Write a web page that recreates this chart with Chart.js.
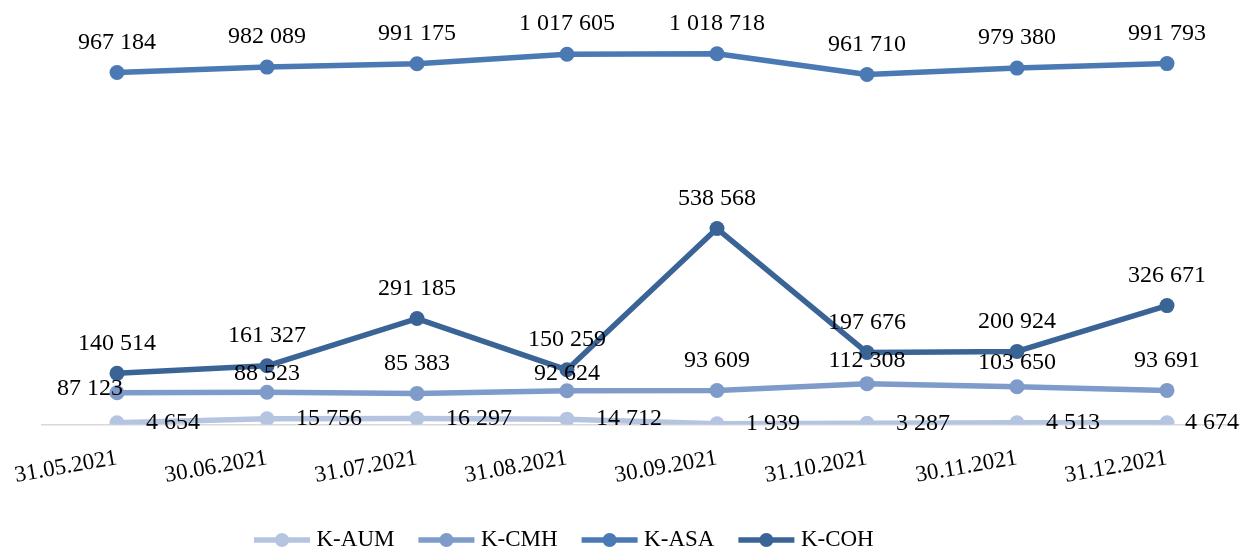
<!DOCTYPE html>
<html>
<head>
<meta charset="utf-8">
<script src="https://cdn.jsdelivr.net/npm/chart.js@4"></script>
<style>
    html, body { margin: 0; padding: 0; background: #fff; overflow: hidden; }
    #wrap { width: 1242px; height: 549px; position: relative; }
</style>
</head>
<body>
<div id="wrap"><canvas id="lineChartK"></canvas></div>
<script>
var fechas = ['31.05.2021', '30.06.2021', '31.07.2021', '31.08.2021', '30.09.2021', '31.10.2021', '30.11.2021', '31.12.2021'];
var series = ['K-AUM', 'K-CMH', 'K-ASA', 'K-COH'];
var kAum = [4654, 15756, 16297, 14712, 1939, 3287, 4513, 4674];
var kCmh = [87123, 88523, 85383, 92624, 93609, 112308, 103650, 93691];
var kAsa = [967184, 982089, 991175, 1017605, 1018718, 961710, 979380, 991793];
var kCoh = [140514, 161327, 291185, 150259, 538568, 197676, 200924, 326671];

var colores = ['#b5c5e1', '#7e9bc9', '#4a79b4', '#3b6496'];

// donde va cada etiqueta (por serie) y algunos ajustes puntuales (centro del texto)
var lado = ['right', 'top', 'top', 'top'];
var ajustes = {
    '0:7': { dx: 45, dy: 0 },
    '1:0': { dx: -27, dy: -4 },
    '1:1': { dx: 0, dy: -19 },
    '1:3': { dx: 0, dy: -17 },
    '1:5': { dx: 0, dy: -23 },
    '1:6': { dx: 0, dy: -24 }
};

function formato(v) {
    return String(v).replace(/\B(?=(\d{3})+(?!\d))/g, ' ');
}

var fuente = '"Liberation Serif", "Times New Roman", serif';
Chart.defaults.font.family = fuente;
Chart.defaults.color = '#000';

var etiquetas = {
    id: 'etiquetas',
    afterDatasetsDraw: function(chart) {
        var ctx = chart.ctx;
        ctx.save();
        ctx.font = '24px ' + fuente;
        ctx.fillStyle = '#000';
        ctx.textBaseline = 'middle';
        chart.data.datasets.forEach(function(ds, i) {
            var meta = chart.getDatasetMeta(i);
            meta.data.forEach(function(pt, j) {
                var aj = ajustes[i + ':' + j];
                var x = pt.x, y = pt.y;
                if (aj) {
                    ctx.textAlign = 'center';
                    x += aj.dx; y += aj.dy;
                } else if (lado[i] === 'right') {
                    ctx.textAlign = 'left';
                    x += 29;
                } else {
                    ctx.textAlign = 'center';
                    y -= 30;
                }
                ctx.fillText(formato(ds.data[j]), x, y);
            });
        });
        ctx.restore();
    }
};

// leyenda: linea con punto, como en Excel
var marcas = {
    id: 'marcas',
    afterUpdate: function(chart) {
        var lg = chart.legend;
        if (!lg || !lg.legendHitBoxes.length) return;
        var hb = lg.legendHitBoxes;
        var dx = 234 - hb[0].left;
        lg.left += dx;
        lg.right += dx;
        hb.forEach(function(h) { h.left += dx; });
    },
    afterDraw: function(chart) {
        var lg = chart.legend;
        var ctx = chart.ctx;
        ctx.save();
        lg.legendHitBoxes.forEach(function(h, i) {
            var cy = h.top + h.height / 2;
            ctx.strokeStyle = colores[i];
            ctx.fillStyle = colores[i];
            ctx.lineWidth = 5.5;
            ctx.beginPath();
            ctx.moveTo(h.left + 20, cy);
            ctx.lineTo(h.left + 76, cy);
            ctx.stroke();
            ctx.beginPath();
            ctx.arc(h.left + 48, cy, 7, 0, Math.PI * 2);
            ctx.fill();
        });
        ctx.restore();
    }
};

var listas = [kAum, kCmh, kAsa, kCoh];
var datasets = series.map(function(nombre, i) {
    return {
        label: nombre,
        data: listas[i],
        borderColor: colores[i],
        backgroundColor: colores[i],
        pointBackgroundColor: colores[i],
        pointBorderWidth: 0,
        pointRadius: 7.5,
        borderWidth: 5.5,
        borderJoinStyle: 'round',
        borderCapStyle: 'round',
        tension: 0,
        order: series.length - i
    };
});

var ctx = document.getElementById('lineChartK');
var chart = new Chart(ctx, {
    type: 'line',
    data: {
        labels: fechas,
        datasets: datasets
    },
    options: {
        responsive: true,
        maintainAspectRatio: false,
        animation: false,
        layout: {
            autoPadding: false,
            padding: { left: 42, right: 0, top: 6, bottom: -12.5 }
        },
        plugins: {
            tooltip: { enabled: false },
            legend: {
                position: 'bottom',
                labels: {
                    font: { size: 23 },
                    color: '#000',
                    boxWidth: 71,
                    padding: 4,
                    sort: function(a, b) { return a.datasetIndex - b.datasetIndex; },
                    generateLabels: function(chart) {
                        var items = Chart.defaults.plugins.legend.labels.generateLabels(chart);
                        items.forEach(function(it) {
                            it.fillStyle = 'rgba(0,0,0,0)';
                            it.strokeStyle = 'rgba(0,0,0,0)';
                            it.lineWidth = 0;
                        });
                        return items;
                    }
                }
            }
        },
        scales: {
            x: {
                offset: true,
                grid: { display: false, drawTicks: false },
                border: { display: true, color: '#d9d9d9', width: 1.5 },
                ticks: {
                    font: { size: 23 },
                    color: '#000',
                    minRotation: 10,
                    maxRotation: 10,
                    autoSkip: false,
                    padding: 20
                },
                afterFit: function(s) {
                    s.paddingLeft = 0;
                    s.paddingRight = 0;
                    s.height = 100;
                }
            },
            y: {
                display: false,
                min: 0,
                max: 1150000
            }
        }
    },
    plugins: [etiquetas, marcas]
});
</script>
</body>
</html>
